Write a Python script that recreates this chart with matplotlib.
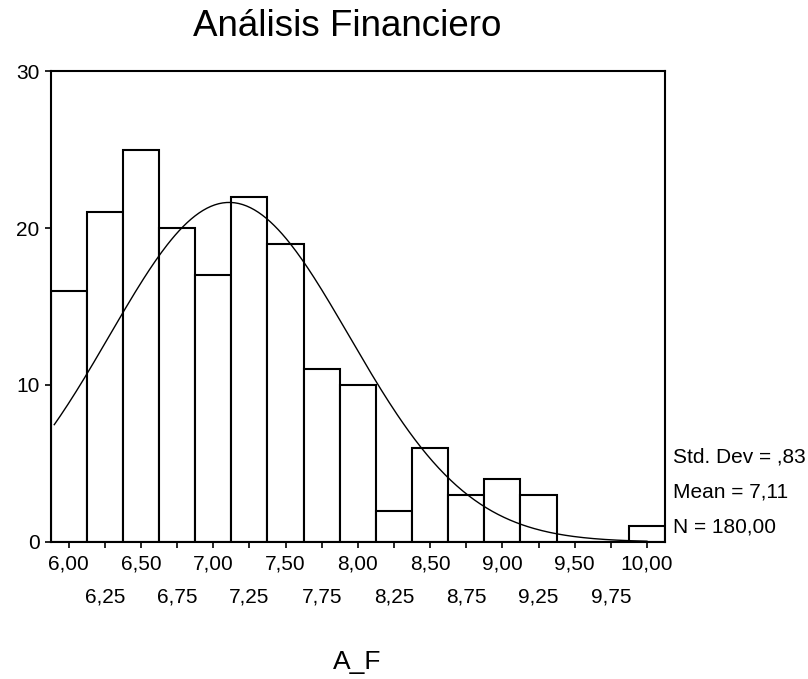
import numpy as np
import matplotlib
matplotlib.use("Agg")
import matplotlib.pyplot as plt
from matplotlib.ticker import FixedLocator

plt.rcParams['font.family'] = ['Liberation Sans', 'DejaVu Sans']

# bin centres and counts
bin_centers = [6.00, 6.25, 6.50, 6.75, 7.00, 7.25, 7.50, 7.75, 8.00,
               8.25, 8.50, 8.75, 9.00, 9.25, 9.50, 9.75, 10.00]
counts = [16, 21, 25, 20, 17, 22, 19, 11, 10, 2, 6, 3, 4, 3, 0, 0, 1]
bin_width = 0.25

# summary stats printed on the chart
std_dev = 0.83
mean = 7.11
n_total = 180

major_ticks = [6.00, 6.50, 7.00, 7.50, 8.00, 8.50, 9.00, 9.50, 10.00]
minor_ticks = [6.25, 6.75, 7.25, 7.75, 8.25, 8.75, 9.25, 9.75]
y_ticks = [0, 10, 20, 30]


def fmt(v):
    return ("%.2f" % v).replace(".", ",")


fig = plt.figure(figsize=(8.08, 6.79), dpi=100)
ax = fig.add_axes([0.0627, 0.2018, 0.7603, 0.6936])

ax.bar(bin_centers, counts, width=bin_width, facecolor="white",
       edgecolor="black", linewidth=1.5)

# fitted normal curve, scaled to counts
xs = np.linspace(5.9, 10.0, 300)
ys = n_total * bin_width / (std_dev * np.sqrt(2 * np.pi)) * \
    np.exp(-0.5 * ((xs - mean) / std_dev) ** 2)
ax.plot(xs, ys, color="black", linewidth=1.0)

ax.set_xlim(5.875, 10.125)
ax.set_ylim(0, 30)

ax.xaxis.set_major_locator(FixedLocator(major_ticks))
ax.xaxis.set_minor_locator(FixedLocator(minor_ticks))
ax.set_xticklabels([fmt(v) for v in major_ticks])
ax.set_xticklabels([fmt(v) for v in minor_ticks], minor=True)
ax.tick_params(axis="x", which="major", length=4, width=1.2, pad=5, labelsize=15)
ax.tick_params(axis="x", which="minor", length=4, width=1.2, pad=29, labelsize=15)

ax.set_yticks(y_ticks)
ax.set_yticklabels([str(v) for v in y_ticks])
ax.tick_params(axis="y", length=4, width=1.2, pad=4, labelsize=15)

for s in ax.spines.values():
    s.set_linewidth(1.5)

fig.text(0.43, 1 - 26 / 679, "Análisis Financiero", fontsize=26.5, ha="center", va="center")
fig.text(357 / 808, 1 - 662 / 679, "A_F", fontsize=19, ha="center", va="center")

stats = ["Std. Dev = " + ("%.2f" % std_dev).replace("0.", ",").replace(".", ","),
         "Mean = " + fmt(mean),
         "N = " + fmt(n_total)]
for i, t in enumerate(stats):
    fig.text(0.833, 1 - (457 + 35 * i) / 679, t, fontsize=15, ha="left", va="center")

fig.savefig("out.png", dpi=100)
